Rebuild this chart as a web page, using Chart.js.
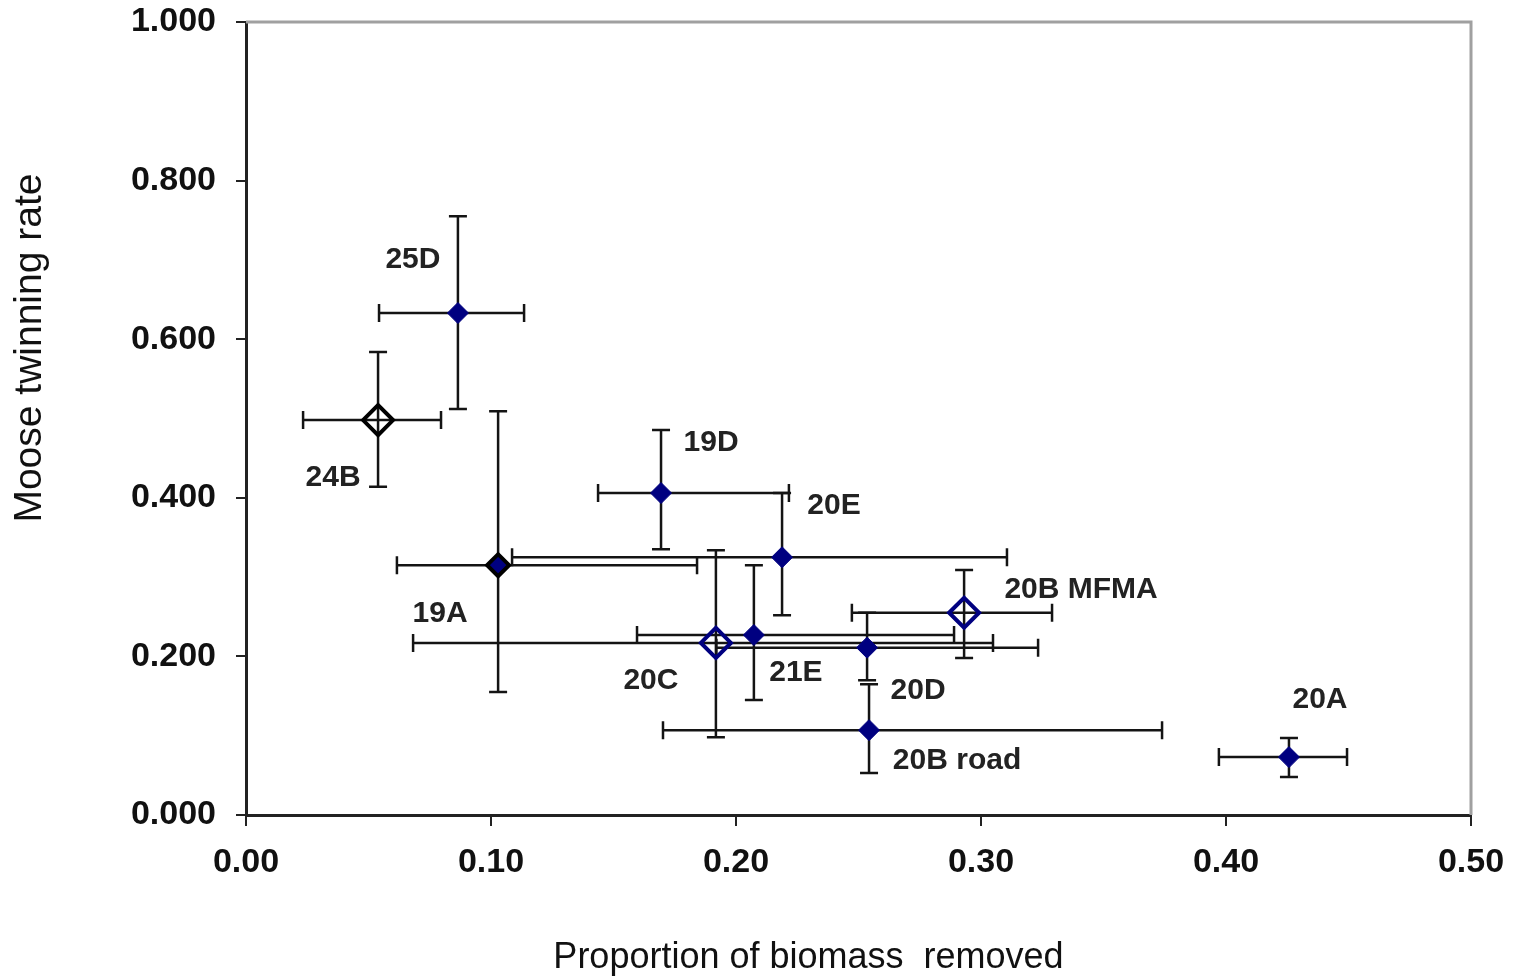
<!DOCTYPE html>
<html lang="en">
<head>
<meta charset="UTF-8">
<title>Moose twinning rate vs proportion of biomass removed</title>
<script src="https://cdn.jsdelivr.net/npm/chart.js@4.4.1/dist/chart.umd.min.js"></script>
<style>
  html, body { margin: 0; padding: 0; background: #fff; }
  #wrap { width: 1515px; height: 977px; }
</style>
</head>
<body>
<div id="wrap"><canvas id="chart" width="1515" height="977"></canvas></div>
<script>
// ---- data ----
const units       = ['25D', '24B', '19D', '20E', '19A', '20C', '21E', '20D', '20B MFMA', '20B road', '20A'];
const biomass     = [0.0865, 0.0539, 0.1694, 0.2188, 0.1029, 0.1918, 0.2073, 0.2535, 0.2931, 0.2543, 0.4257];
const biomassLow  = [0.0543, 0.0233, 0.1437, 0.1086, 0.0616, 0.0682, 0.1596, 0.1920, 0.2473, 0.1702, 0.3971];
const biomassHigh = [0.1135, 0.0796, 0.2216, 0.3106, 0.1841, 0.3049, 0.2890, 0.3233, 0.3290, 0.3739, 0.4494];
const twinning    = [0.633, 0.498, 0.406, 0.325, 0.315, 0.217, 0.227, 0.211, 0.255, 0.107, 0.073];
const twinLow     = [0.512, 0.414, 0.335, 0.252, 0.155, 0.098, 0.145, 0.170, 0.198, 0.053, 0.048];
const twinHigh    = [0.755, 0.584, 0.4855, 0.406, 0.509, 0.334, 0.315, 0.255, 0.309, 0.165, 0.097];

// which units get which marker
const filledUnits     = ['25D', '19D', '20E', '21E', '20D', '20B road', '20A'];
const outlinedUnits   = ['19A'];
const hollowBlack     = ['24B'];
const hollowNavy      = ['20C', '20B MFMA'];

const xTicks = [0, 0.1, 0.2, 0.3, 0.4, 0.5];
const yTicks = [0, 0.2, 0.4, 0.6, 0.8, 1.0];

const xTitle = 'Proportion of biomass  removed';
const yTitle = 'Moose twinning rate';

// label placement relative to marker (px)
const labelOffset = {
  '25D': [-45, -55], '24B': [-45, 56], '19D': [50, -52], '20E': [52, -54],
  '19A': [-58, 47], '20C': [-65, 36], '21E': [42, 36], '20D': [51, 41],
  '20B MFMA': [117, -25], '20B road': [88, 29], '20A': [31, -59]
};

const NAVY = '#000080';
const INK = '#141414';

const pointsFor = (list) => units
  .map((u, i) => ({ x: biomass[i], y: twinning[i], unit: u }))
  .filter(p => list.includes(p.unit));

// error bars, drawn under the markers
const errorBars = {
  id: 'errorBars',
  beforeDatasetsDraw(chart) {
    const { ctx, scales: { x, y } } = chart;
    const cap = 9;
    ctx.save();
    ctx.strokeStyle = INK;
    ctx.lineWidth = 2.5;
    units.forEach((u, i) => {
      const px = x.getPixelForValue(biomass[i]);
      const py = y.getPixelForValue(twinning[i]);
      const xl = x.getPixelForValue(biomassLow[i]);
      const xh = x.getPixelForValue(biomassHigh[i]);
      const yl = y.getPixelForValue(twinLow[i]);
      const yh = y.getPixelForValue(twinHigh[i]);
      ctx.beginPath();
      ctx.moveTo(xl, py); ctx.lineTo(xh, py);
      ctx.moveTo(xl, py - cap); ctx.lineTo(xl, py + cap);
      ctx.moveTo(xh, py - cap); ctx.lineTo(xh, py + cap);
      ctx.moveTo(px, yl); ctx.lineTo(px, yh);
      ctx.moveTo(px - cap, yl); ctx.lineTo(px + cap, yl);
      ctx.moveTo(px - cap, yh); ctx.lineTo(px + cap, yh);
      ctx.stroke();
    });
    ctx.restore();
  }
};

// unit names next to points
const unitLabels = {
  id: 'unitLabels',
  afterDatasetsDraw(chart) {
    const { ctx, scales: { x, y } } = chart;
    ctx.save();
    ctx.font = 'bold 30px "Liberation Sans", Arial, sans-serif';
    ctx.fillStyle = '#222';
    ctx.textAlign = 'center';
    ctx.textBaseline = 'middle';
    units.forEach((u, i) => {
      const [dx, dy] = labelOffset[u];
      // +2: canvas 'middle' sits a little above the glyph centre
      ctx.fillText(u, x.getPixelForValue(biomass[i]) + dx, y.getPixelForValue(twinning[i]) + dy + 2);
    });
    ctx.restore();
  }
};

// grey frame on top and right of the plot area
const plotFrame = {
  id: 'plotFrame',
  beforeDatasetsDraw(chart) {
    const { ctx, chartArea: a } = chart;
    ctx.save();
    ctx.strokeStyle = '#a0a0a0';
    ctx.lineWidth = 3;
    ctx.beginPath();
    ctx.moveTo(a.left, a.top);
    ctx.lineTo(a.right, a.top);
    ctx.lineTo(a.right, a.bottom);
    ctx.stroke();
    ctx.restore();
  }
};

const tickFont = { family: '"Liberation Sans", Arial, sans-serif', size: 34, weight: 'bold' };

new Chart(document.getElementById('chart'), {
  type: 'scatter',
  data: {
    datasets: [
      { data: pointsFor(filledUnits), pointStyle: 'rectRot', pointRadius: 10.5,
        backgroundColor: NAVY, borderColor: NAVY, borderWidth: 1 },
      { data: pointsFor(outlinedUnits), pointStyle: 'rectRot', pointRadius: 11,
        backgroundColor: NAVY, borderColor: '#000', borderWidth: 4 },
      { data: pointsFor(hollowBlack), pointStyle: 'rectRot', pointRadius: 15,
        backgroundColor: 'rgba(0,0,0,0)', borderColor: '#000', borderWidth: 4 },
      { data: pointsFor(hollowNavy), pointStyle: 'rectRot', pointRadius: 15,
        backgroundColor: 'rgba(0,0,0,0)', borderColor: NAVY, borderWidth: 4 }
    ]
  },
  options: {
    responsive: false,
    animation: false,
    events: [],
    layout: { padding: { top: 22, right: 44, left: 0, bottom: 0 } },
    plugins: { legend: { display: false }, tooltip: { enabled: false } },
    scales: {
      x: {
        type: 'linear', min: 0, max: 0.5,
        afterFit: (s) => { s.height = 162; s.paddingLeft = 0; s.paddingRight = 44; },
        afterBuildTicks: (s) => { s.ticks = xTicks.map(v => ({ value: v })); },
        ticks: { callback: (v) => v.toFixed(2), font: tickFont, color: '#111', padding: 16, maxRotation: 0 },
        grid: { drawOnChartArea: false, drawTicks: true, tickLength: 11, color: '#222', lineWidth: 2 },
        border: { color: '#222', width: 3 },
        title: {
          display: true, text: xTitle + ' '.repeat(10), color: '#111',
          font: { family: '"Liberation Sans", Arial, sans-serif', size: 36, lineHeight: 1 },
          padding: { top: 0, bottom: 1 }
        }
      },
      y: {
        type: 'linear', min: 0, max: 1,
        afterFit: (s) => { s.width = 246; s.paddingTop = 22; s.paddingBottom = 0; },
        afterBuildTicks: (s) => { s.ticks = yTicks.map(v => ({ value: v })); },
        ticks: { callback: (v) => v.toFixed(3), font: tickFont, color: '#111', padding: 20 },
        grid: { drawOnChartArea: false, drawTicks: true, tickLength: 10, color: '#222', lineWidth: 2 },
        border: { color: '#222', width: 3 },
        title: {
          display: true, text: ' '.repeat(13) + yTitle, color: '#111',
          font: { family: '"Liberation Sans", Arial, sans-serif', size: 39, lineHeight: 1 },
          padding: { top: 11, bottom: 0 }
        }
      }
    }
  },
  plugins: [plotFrame, errorBars, unitLabels]
});
</script>
</body>
</html>
